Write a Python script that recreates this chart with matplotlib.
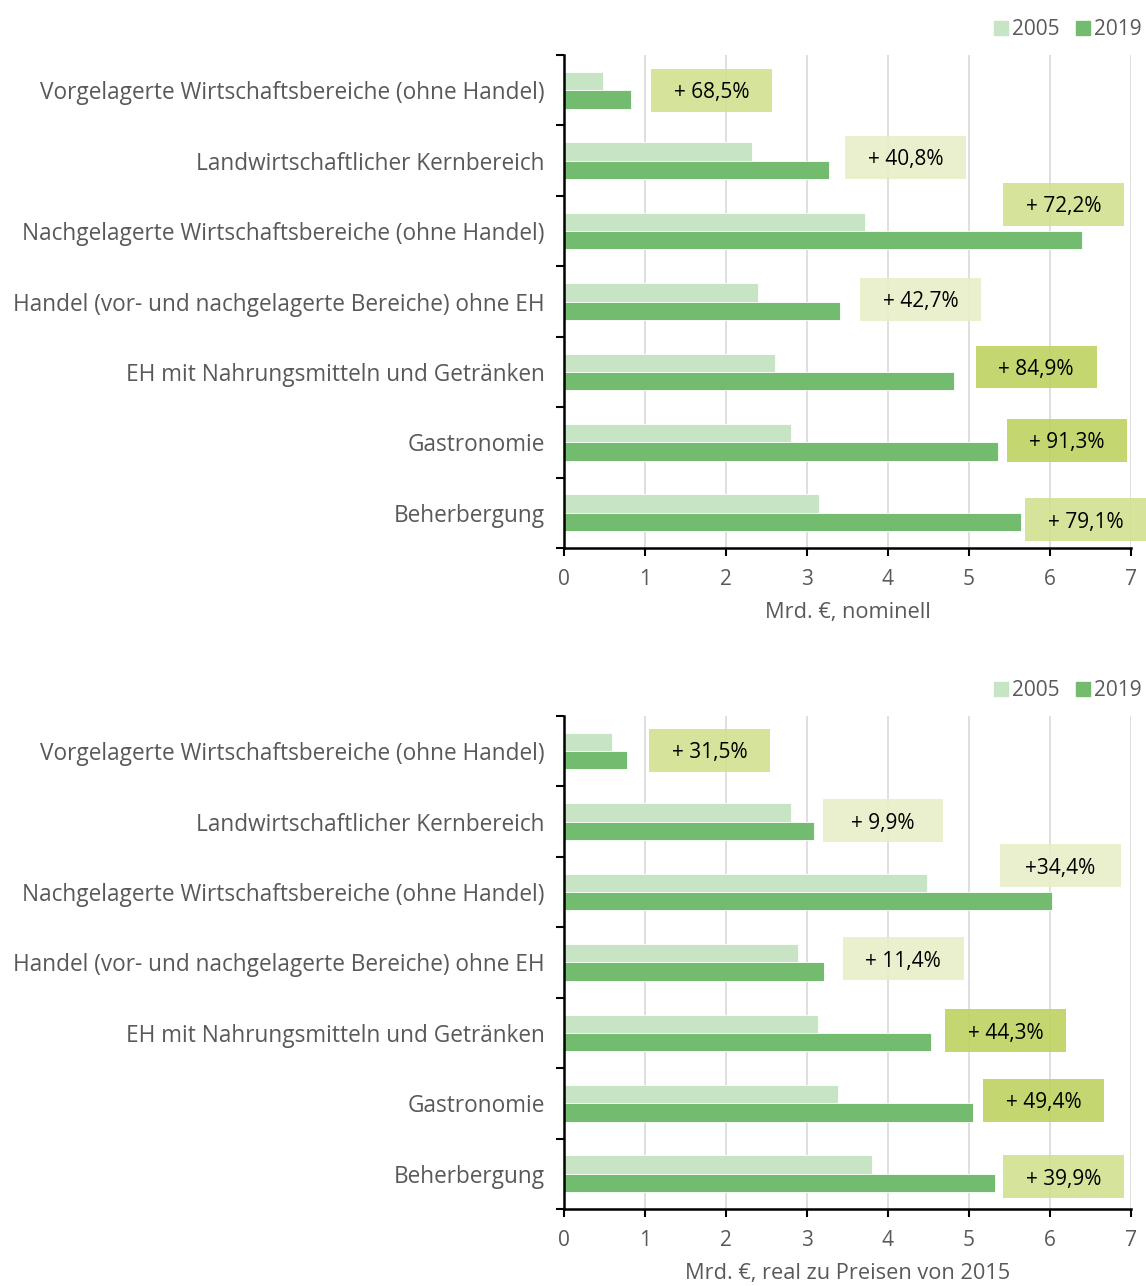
import matplotlib.pyplot as plt
from matplotlib.patches import Rectangle
from matplotlib.lines import Line2D

plt.rcParams['font.family'] = ['Open Sans', 'DejaVu Sans']

categories = [
    'Vorgelagerte Wirtschaftsbereiche (ohne Handel)',
    'Landwirtschaftlicher Kernbereich',
    'Nachgelagerte Wirtschaftsbereiche (ohne Handel)',
    'Handel (vor- und nachgelagerte Bereiche) ohne EH',
    'EH mit Nahrungsmitteln und Getränken',
    'Gastronomie',
    'Beherbergung',
]
years = ['2005', '2019']

# Mrd. EUR, nominell
nominal_2005 = [0.48, 2.32, 3.72, 2.40, 2.60, 2.80, 3.15]
nominal_2019 = [0.83, 3.27, 6.40, 3.41, 4.81, 5.36, 5.64]
nominal_growth = ['+ 68,5%', '+ 40,8%', '+ 72,2%', '+ 42,7%', '+ 84,9%', '+ 91,3%', '+ 79,1%']

# Mrd. EUR, real zu Preisen von 2015
real_2005 = [0.59, 2.80, 4.48, 2.89, 3.14, 3.38, 3.80]
real_2019 = [0.78, 3.09, 6.02, 3.21, 4.53, 5.05, 5.32]
real_growth = ['+ 31,5%', '+ 9,9%', '+34,4%', '+ 11,4%', '+ 44,3%', '+ 49,4%', '+ 39,9%']

x_ticks = [0, 1, 2, 3, 4, 5, 6, 7]

# label box placement (x centre in data units, y offset from category centre) and shade
nominal_box_x = [1.82, 4.22, 6.17, 4.40, 5.83, 6.21, 6.44]
nominal_box_dy = [0.0, -0.05, -0.38, -0.03, -0.07, -0.03, 0.10]
nominal_box_shade = [1, 0, 1, 0, 2, 2, 1]
real_box_x = [1.80, 3.94, 6.13, 4.19, 5.45, 5.92, 6.17]
real_box_dy = [-0.01, -0.01, -0.37, -0.05, -0.03, -0.04, 0.04]
real_box_shade = [1, 0, 0, 0, 2, 2, 1]

c_2005 = '#c7e4c5'
c_2019 = '#72bb6f'
box_colors = ['#e8efc8', '#d1e090', '#bdd260']
grey = '#595959'

fig = plt.figure(figsize=(11.46, 12.86), dpi=100)
ax1 = fig.add_axes([0.4921, 0.5739, 0.4948, 0.3833])
ax2 = fig.add_axes([0.4921, 0.0599, 0.4948, 0.3834])


def draw(ax, v05, v19, growth, box_x, box_dy, shade, xlabel):
    n = len(categories)
    ys = list(range(n))
    h = 0.26
    ax.barh([y - h / 2 for y in ys], v05, height=h, color=c_2005, edgecolor='white', linewidth=0.6, zorder=2)
    ax.barh([y + h / 2 for y in ys], v19, height=h, color=c_2019, edgecolor='white', linewidth=0.6, zorder=2)
    bw, bh = 1.49, 0.61
    for i in range(n):
        cx, cy = box_x[i], i + box_dy[i]
        ax.add_patch(Rectangle((cx - bw / 2, cy - bh / 2), bw, bh, facecolor=box_colors[shade[i]],
                               edgecolor='none', alpha=0.9, zorder=3, clip_on=False))
        ax.text(cx, cy, growth[i], ha='center', va='center_baseline', fontsize=15, color='black',
                zorder=4, clip_on=False)
    ax.set_xlim(0, 7)
    ax.set_ylim(n - 0.5, -0.5)
    ax.set_xticks(x_ticks)
    ax.set_yticks(ys)
    ax.set_yticklabels(categories)
    ax.set_yticks([y + 0.5 for y in range(-1, n)], minor=True)
    ax.tick_params(axis='y', which='major', length=0, pad=14, labelsize=16.3, labelcolor=grey)
    ax.tick_params(axis='y', which='minor', length=6, width=1.5, color='black', direction='out')
    ax.tick_params(axis='x', length=6, width=1.5, color='black', direction='out', pad=9,
                   labelsize=15, labelcolor=grey)
    ax.grid(axis='x', color='#d9d9d9', linewidth=1.2, zorder=0)
    ax.set_axisbelow(True)
    for s in ['top', 'right']:
        ax.spines[s].set_visible(False)
    for s in ['left', 'bottom']:
        ax.spines[s].set_linewidth(1.8)
        ax.spines[s].set_color('black')
    ax.set_xlabel(xlabel, fontsize=15.7, color=grey, labelpad=9)
    handles = [Line2D([], [], marker='s', linestyle='none', markersize=10, color=c_2005),
               Line2D([], [], marker='s', linestyle='none', markersize=10, color=c_2019)]
    leg = ax.legend(handles, years, loc='lower right', bbox_to_anchor=(1.045, 1.0), ncol=2, frameon=False,
                    fontsize=15, handlelength=0.6, handletextpad=0.25, columnspacing=0.8,
                    borderaxespad=0.3)
    for t in leg.get_texts():
        t.set_color(grey)


draw(ax1, nominal_2005, nominal_2019, nominal_growth, nominal_box_x, nominal_box_dy,
     nominal_box_shade, 'Mrd. €, nominell')
draw(ax2, real_2005, real_2019, real_growth, real_box_x, real_box_dy,
     real_box_shade, 'Mrd. €, real zu Preisen von 2015')

fig.savefig('out.png', dpi=100)
